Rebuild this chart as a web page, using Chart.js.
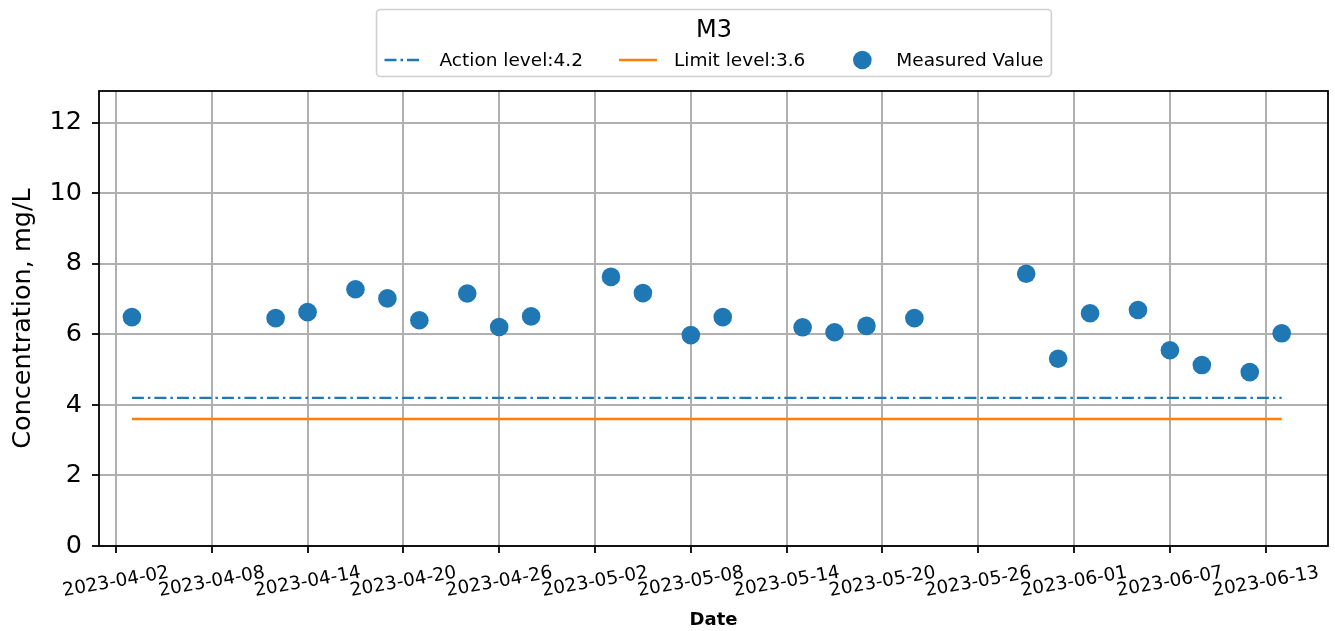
<!DOCTYPE html>
<html>
<head>
<meta charset="utf-8">
<title>M3</title>
<script src="https://cdn.jsdelivr.net/npm/chart.js@4.4.0/dist/chart.umd.min.js"></script>
<style>
    html, body { margin: 0; padding: 0; background: #ffffff; }
    #wrap { width: 1335px; height: 631px; }
</style>
</head>
<body>
<div id="wrap"><canvas id="m3Chart" width="1335" height="631"></canvas></div>
<script>
// sampling point and its readings
var stationName = 'M3';
var sampleDates = ['2023-04-03', '2023-04-12', '2023-04-14', '2023-04-17', '2023-04-19',
    '2023-04-21', '2023-04-24', '2023-04-26', '2023-04-28', '2023-05-03', '2023-05-05',
    '2023-05-08', '2023-05-10', '2023-05-15', '2023-05-17', '2023-05-19', '2023-05-22',
    '2023-05-29', '2023-05-31', '2023-06-02', '2023-06-05', '2023-06-07', '2023-06-09',
    '2023-06-12', '2023-06-14'];
var measuredValues = [6.49, 6.46, 6.63, 7.28, 7.02, 6.40, 7.16, 6.21, 6.51, 7.63, 7.17,
    5.98, 6.49, 6.20, 6.06, 6.24, 6.46, 7.72, 5.31, 6.60, 6.69, 5.55, 5.13, 4.93, 6.03];
var actionLevel = 4.2;
var limitLevel = 3.6;

// axis ticks
var tickDates = ['2023-04-02', '2023-04-08', '2023-04-14', '2023-04-20', '2023-04-26',
    '2023-05-02', '2023-05-08', '2023-05-14', '2023-05-20', '2023-05-26', '2023-06-01',
    '2023-06-07', '2023-06-13'];
var yTicks = [0, 2, 4, 6, 8, 10, 12];

var DAY = 86400000;
var FONT = '"DejaVu Sans", "Liberation Sans", sans-serif';

function toTime(d) {
    return Date.parse(d + 'T00:00:00Z');
}

var firstTime = toTime(sampleDates[0]);
var lastTime = toTime(sampleDates[sampleDates.length - 1]);

var measuredPoints = sampleDates.map(function (d, i) {
    return { x: toTime(d), y: measuredValues[i] };
});

function levelLine(level) {
    return [{ x: firstTime, y: level }, { x: lastTime, y: level }];
}

// black frame round the plot area
var plotFrame = {
    id: 'plotFrame',
    beforeDatasetsDraw: function (chart) {
        var a = chart.chartArea;
        var ctx = chart.ctx;
        ctx.save();
        ctx.strokeStyle = '#000000';
        ctx.lineWidth = 1.8;
        ctx.strokeRect(a.left, a.top, a.right - a.left, a.bottom - a.top);
        ctx.restore();
    }
};

// date labels, slightly tilted and centred under their tick
var dateTickLabels = {
    id: 'dateTickLabels',
    afterDraw: function (chart) {
        var scale = chart.scales.x;
        var ctx = chart.ctx;
        ctx.save();
        ctx.font = '18.5px ' + FONT;
        ctx.fillStyle = '#000000';
        ctx.textAlign = 'center';
        ctx.textBaseline = 'middle';
        scale.ticks.forEach(function (t) {
            var x = scale.getPixelForValue(t.value);
            ctx.save();
            ctx.translate(x, scale.top + 36);
            ctx.rotate(-10 * Math.PI / 180);
            ctx.fillText(t.label, 0, 0);
            ctx.restore();
        });
        ctx.restore();
    }
};

// framed legend with the station name as its title
var legendBox = {
    id: 'legendBox',
    afterDraw: function (chart) {
        var ctx = chart.ctx;
        var area = chart.chartArea;
        var sets = chart.data.datasets;
        var handleLen = 38, handleGap = 17, colGap = 36, pad = 8;
        var top = 9, height = 67, itemY = 60;

        ctx.save();
        ctx.font = '18.5px ' + FONT;
        var widths = sets.map(function (ds) { return ctx.measureText(ds.label).width; });
        var total = pad * 2 + colGap * (sets.length - 1);
        widths.forEach(function (w) { total += handleLen + handleGap + w; });
        var left = Math.round((area.left + area.right) / 2 - total / 2) + 0.5;

        ctx.beginPath();
        ctx.roundRect(left, top + 0.5, total, height, 4);
        ctx.fillStyle = 'rgba(255,255,255,0.8)';
        ctx.fill();
        ctx.strokeStyle = '#d0d0d0';
        ctx.lineWidth = 1.6;
        ctx.stroke();

        ctx.fillStyle = '#000000';
        ctx.textAlign = 'center';
        ctx.textBaseline = 'middle';
        ctx.font = '24px ' + FONT;
        ctx.fillText(stationName, left + total / 2, 31);

        var x = left + pad;
        ctx.font = '18.5px ' + FONT;
        ctx.textAlign = 'left';
        sets.forEach(function (ds, i) {
            if (ds.type === 'line') {
                ctx.save();
                ctx.strokeStyle = ds.borderColor;
                ctx.lineWidth = ds.borderWidth;
                ctx.setLineDash(ds.borderDash || []);
                ctx.beginPath();
                ctx.moveTo(x, itemY);
                ctx.lineTo(x + handleLen, itemY);
                ctx.stroke();
                ctx.restore();
            } else {
                ctx.beginPath();
                ctx.arc(x + handleLen / 2 + 2, itemY, ds.pointRadius, 0, Math.PI * 2);
                ctx.fillStyle = ds.backgroundColor;
                ctx.fill();
                ctx.fillStyle = '#000000';
            }
            x += handleLen + handleGap;
            ctx.fillText(ds.label, x, itemY + 1);
            x += widths[i] + colGap;
        });
        ctx.restore();
    }
};

var ctx = document.getElementById('m3Chart').getContext('2d');
var m3Chart = new Chart(ctx, {
    type: 'scatter',
    data: {
        datasets: [{
            type: 'line',
            label: 'Action level:' + actionLevel,
            data: levelLine(actionLevel),
            borderColor: '#1f77b4',
            borderWidth: 2.4,
            borderDash: [12, 4, 2.5, 4],
            pointRadius: 0,
            fill: false
        }, {
            type: 'line',
            label: 'Limit level:' + limitLevel,
            data: levelLine(limitLevel),
            borderColor: '#ff7f0e',
            borderWidth: 2.4,
            pointRadius: 0,
            fill: false
        }, {
            label: 'Measured Value',
            data: measuredPoints,
            backgroundColor: '#1f77b4',
            borderWidth: 0,
            pointRadius: 9.3
        }]
    },
    options: {
        responsive: false,
        animation: false,
        devicePixelRatio: 1,
        events: [],
        layout: {
            autoPadding: false,
            padding: { top: 91, right: 7, left: 0, bottom: 0 }
        },
        plugins: {
            legend: { display: false },
            tooltip: { enabled: false }
        },
        scales: {
            x: {
                type: 'linear',
                min: toTime(tickDates[0]) - 1.06 * DAY,
                max: toTime(tickDates[0]) + 75.9 * DAY,
                afterBuildTicks: function (scale) {
                    scale.ticks = tickDates.map(function (d) { return { value: toTime(d) }; });
                },
                afterFit: function (scale) { scale.height = 85; },
                ticks: {
                    display: false,
                    autoSkip: false,
                    callback: function (value) {
                        return new Date(value).toISOString().slice(0, 10);
                    }
                },
                grid: {
                    color: '#b0b0b0',
                    lineWidth: 2,
                    tickColor: '#000000',
                    tickWidth: 1.8,
                    tickLength: 7
                },
                border: { display: false },
                title: {
                    display: true,
                    text: 'Date',
                    color: '#000000',
                    font: { family: FONT, size: 18, weight: 'bold' },
                    padding: { top: 0, bottom: 0 }
                }
            },
            y: {
                min: 0,
                max: 12.9,
                afterBuildTicks: function (scale) {
                    scale.ticks = yTicks.map(function (v) { return { value: v }; });
                },
                afterFit: function (scale) { scale.width = 99; },
                ticks: {
                    color: '#000000',
                    padding: 10,
                    font: { family: FONT, size: 25.5 }
                },
                grid: {
                    color: '#b0b0b0',
                    lineWidth: 2,
                    tickColor: '#000000',
                    tickWidth: 1.8,
                    tickLength: 7
                },
                border: { display: false },
                title: {
                    display: true,
                    text: 'Concentration, mg/L',
                    color: '#000000',
                    font: { family: FONT, size: 25.5 },
                    padding: { top: 8, bottom: 0 }
                }
            }
        }
    },
    plugins: [plotFrame, dateTickLabels, legendBox]
});
</script>
</body>
</html>
